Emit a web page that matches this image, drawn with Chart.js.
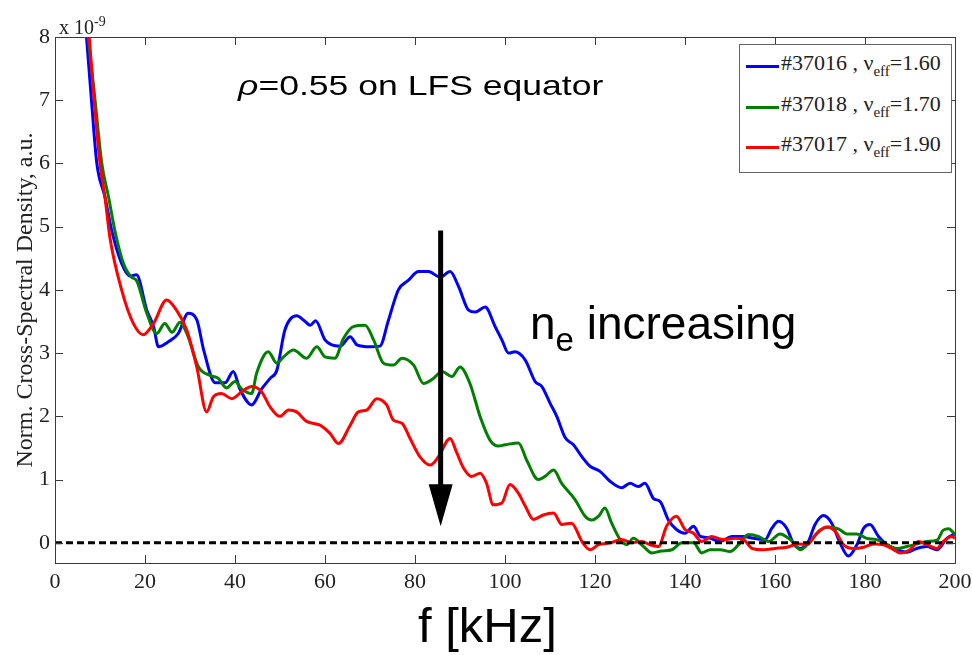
<!DOCTYPE html>
<html>
<head>
<meta charset="utf-8">
<script src="https://cdn.jsdelivr.net/npm/chart.js@4.4.1/dist/chart.umd.min.js"></script>
<style>
  html, body { margin: 0; padding: 0; background: #fff; }
  #wrap { position: relative; width: 972px; height: 655px; overflow: hidden; }
  #chart { position: absolute; left: 0; top: 0; }
  .note { position: absolute; white-space: nowrap; line-height: 1; color: #000;
          font-family: "Liberation Sans", Arial, sans-serif; }
  .serif { font-family: "Liberation Serif", "Times New Roman", serif; color: #222; }
  #legend { position: absolute; left: 739px; top: 44px; width: 211px; height: 127px;
            border: 1px solid #666; background: #fff; }
  .row { position: absolute; left: 0; height: 40px; width: 100%; }
  .swatch { position: absolute; left: 6px; width: 33px; height: 3px; }
  .lbl { position: absolute; left: 41px; top: 0; font-size: 22px; line-height: 21px; }
  .lbl sub { font-size: 15px; vertical-align: -6px; line-height: 0; }
</style>
</head>
<body>
<div id="wrap">
  <canvas id="chart" width="972" height="655"></canvas>

  <div class="note serif" style="left:59px; top:17px; font-size:20px;">x 10<sup style="font-size:14px; vertical-align:8px; line-height:0;">-9</sup></div>

  <div class="note" style="left:238px; top:72px; font-size:28px; transform:scaleX(1.27); transform-origin:left top;"><i>ρ</i>=0.55 on LFS equator</div>

  <div class="note" style="left:530px; top:300px; font-size:46px;">n<sub style="font-size:33px; vertical-align:-12px; line-height:0;">e</sub> increasing</div>

  <div class="note" style="left:418px; top:601px; font-size:49px;">f [kHz]</div>

  <div id="legend">
    <div class="row" style="top:7px;"><div class="swatch" style="top:13px; background:#0000ff;"></div><div class="lbl serif">#37016 , ν<sub>eff</sub>=1.60</div></div>
    <div class="row" style="top:48px;"><div class="swatch" style="top:13px; background:#007f00;"></div><div class="lbl serif">#37018 , ν<sub>eff</sub>=1.70</div></div>
    <div class="row" style="top:88px;"><div class="swatch" style="top:13px; background:#ff0000;"></div><div class="lbl serif">#37017 , ν<sub>eff</sub>=1.90</div></div>
  </div>
</div>

<script>
// values, y in units of 1e-9
const freqTicks = [0, 20, 40, 60, 80, 100, 120, 140, 160, 180, 200];
const densityTicks = [0, 1, 2, 3, 4, 5, 6, 7, 8];

const freq37016 = [6, 7, 8.1, 9.3, 11.1, 12.6, 14.8, 16.7, 18.1, 20.4, 21.9, 23, 25.2, 27.4, 29.6, 31.5, 33, 35.6, 37.8, 39.6,
  41.1, 43.7, 45.9, 47.8, 49.3, 51.1, 53.7, 55.6, 56.7, 57.9, 60, 61.5, 63.4, 65.6, 67.1, 70, 72.2, 74.1, 76.3, 78.5,
  80.8, 83, 85.6, 87.8, 89.7, 91.9, 93.4, 95.6, 97.8, 99.3, 100.8, 102.2, 104.5, 106.7, 108.2, 110, 111.5, 113.4, 115.2, 117.1,
  118.9, 121.1, 123.4, 125.9, 127.8, 129.6, 131.1, 133, 134.5, 136.3, 138.1, 140, 141.9, 143.4, 145.2, 147.8, 150.4, 153, 155.2, 157.8,
  159.3, 160.8, 162.6, 164.1, 165.6, 167.4, 168.9, 170.8, 172.6, 174.5, 176.3, 178.2, 179.7, 181.1, 183, 184.9, 187.1, 189.3, 191.5, 193.7,
  196, 198.2, 200];
const csd37016 = [9.0, 8.0, 7.0, 6.0, 5.47, 4.94, 4.42, 4.22, 4.24, 3.68, 3.42, 3.10, 3.18, 3.31, 3.63, 3.53, 3.06, 2.53, 2.53, 2.71,
  2.43, 2.18, 2.43, 2.60, 2.73, 3.37, 3.59, 3.50, 3.44, 3.51, 3.21, 3.13, 3.11, 3.26, 3.13, 3.10, 3.11, 3.52, 4.0, 4.15,
  4.29, 4.29, 4.20, 4.29, 4.05, 3.68, 3.65, 3.73, 3.42, 3.21, 3.0, 3.02, 2.89, 2.55, 2.47, 2.21, 2.0, 1.66, 1.55, 1.36,
  1.21, 1.13, 0.97, 0.87, 0.94, 0.89, 0.94, 0.70, 0.65, 0.36, 0.21, 0.15, 0.26, 0.10, 0.08, 0.02, 0.10, 0.10, 0.07, 0.05,
  0.23, 0.34, 0.23, -0.01, -0.09, 0.02, 0.29, 0.43, 0.31, -0.01, -0.21, -0.03, 0.23, 0.29, 0.10, -0.03, -0.11, -0.15, -0.09, -0.06,
  -0.11, 0.07, 0.14];

const freq37018 = [6.2, 7.4, 8.9, 10.4, 11.9, 13.3, 15.2, 17, 18.1, 20.4, 22.6, 24.4, 26, 27.8, 29.3, 31.9, 34.8, 36.3, 38.1, 40,
  41.5, 43.7, 44.8, 47.4, 49.3, 50.8, 53, 55.9, 58.2, 60, 62.2, 64.1, 66.3, 68.9, 70.8, 73, 75.2, 77.1, 79.7, 81.9,
  84.1, 86, 88.2, 90, 92.2, 94.5, 96.7, 98.5, 100, 103, 104.8, 107.4, 108.9, 110.8, 112.6, 115.6, 117.8, 119.3, 120.8, 122.2,
  123.7, 125.6, 127.1, 128.5, 130.8, 132.6, 134.8, 137.1, 139.3, 141.9, 143.7, 145.6, 147.8, 150, 151.9, 154.1, 156.3, 158.6, 161.1, 163.4,
  165.6, 167.8, 170, 171.9, 174.1, 176, 178.2, 180.4, 182.6, 184.9, 187.1, 189.3, 191.5, 193.7, 196, 197.4, 198.6, 200];
const csd37018 = [9.0, 8.0, 7.0, 6.0, 5.47, 4.94, 4.42, 4.20, 4.15, 3.63, 3.31, 3.47, 3.33, 3.49, 3.31, 2.78, 2.64, 2.60, 2.45, 2.55,
  2.43, 2.36, 2.68, 3.02, 2.84, 2.94, 3.05, 2.92, 3.10, 2.94, 2.92, 3.23, 3.42, 3.44, 3.21, 2.84, 2.81, 2.92, 2.81, 2.52,
  2.60, 2.71, 2.63, 2.78, 2.52, 1.99, 1.62, 1.53, 1.55, 1.58, 1.31, 1.0, 1.05, 1.15, 0.94, 0.68, 0.42, 0.36, 0.42, 0.55,
  0.31, 0.05, -0.03, 0.07, -0.06, -0.16, -0.13, -0.11, 0.0, 0.0, -0.16, -0.11, -0.11, -0.14, -0.03, 0.13, 0.10, 0.02, 0.14, 0.05,
  -0.11, 0.02, 0.20, 0.25, 0.22, 0.14, 0.14, 0.07, 0.05, -0.03, -0.09, -0.06, -0.02, 0.02, 0.04, 0.20, 0.22, 0.13];

const freq37017 = [6.4, 7.6, 8.7, 10, 11.1, 12.2, 14.8, 17.4, 19.6, 21.9, 24.8, 27, 29.3, 31.5, 33.7, 35.2, 37, 39.3, 41.5, 43.7,
  45.9, 47.8, 50, 51.9, 53.7, 55.9, 58.9, 61.1, 63, 65.6, 67.4, 69.3, 71.5, 73.7, 75.2, 77.1, 78.9, 81.1, 83.4, 85.2,
  87.8, 89.3, 90.8, 92.6, 94.5, 95.9, 97.4, 99.3, 101.1, 103, 104.5, 106.3, 108.5, 110.8, 112.6, 114.8, 117.1, 118.9, 120.8, 123.4,
  125.9, 128.1, 130.4, 132.2, 134.1, 135.9, 138.1, 140, 141.9, 143.7, 145.9, 148.5, 151.1, 153, 154.9, 157.5, 160, 162.6, 165.2, 167.1,
  169.3, 171.5, 173.4, 175.2, 177.4, 179.7, 181.9, 184.1, 185.9, 187.8, 190, 191.9, 193.7, 196, 197.4, 199.3, 200];
const csd37017 = [9.0, 8.0, 7.0, 6.0, 5.47, 4.83, 4.0, 3.47, 3.29, 3.47, 3.84, 3.68, 3.36, 2.78, 2.07, 2.31, 2.36, 2.28, 2.39, 2.47,
  2.39, 2.15, 2.0, 2.10, 2.07, 1.92, 1.86, 1.73, 1.57, 1.86, 2.07, 2.10, 2.28, 2.18, 1.94, 1.89, 1.65, 1.36, 1.23, 1.36,
  1.65, 1.42, 1.18, 1.05, 1.10, 0.94, 0.60, 0.63, 0.92, 0.78, 0.58, 0.37, 0.44, 0.47, 0.29, 0.31, 0.02, -0.11, -0.03, 0.0,
  0.05, 0.0, 0.02, -0.03, -0.06, 0.26, 0.42, 0.21, 0.15, 0.02, 0.10, 0.05, 0.07, 0.05, -0.09, -0.11, -0.09, -0.07, -0.02, -0.03,
  0.15, 0.25, 0.18, -0.03, -0.09, -0.07, -0.02, -0.03, -0.09, -0.16, -0.11, 0.02, -0.03, -0.09, 0.02, 0.10, 0.07];

const zeroFreq = [0, 200];
const zeroCsd = [0, 0];

// "n_e increasing" arrow, in data units
const arrowFreq = 85.7;
const arrowFrom = 4.94;
const arrowTo = 0.26;

const axisColor = '#3a3a3a';
const tickFont = { family: "'Liberation Serif', 'Times New Roman', serif", size: 22 };

function toPoints(xs, ys) {
    return xs.map((x, i) => ({ x: x, y: ys[i] }));
}

function series(label, xs, ys, color, order) {
    return {
        label: label,
        data: toPoints(xs, ys),
        borderColor: color,
        borderWidth: 3,
        pointRadius: 0,
        fill: false,
        cubicInterpolationMode: 'monotone',
        order: order
    };
}

// box round the plot plus MATLAB style ticks pointing inwards
const framePlugin = {
    id: 'frame',
    afterDraw(chart) {
        const { ctx, chartArea: a, scales } = chart;
        const len = 8;
        ctx.save();
        ctx.strokeStyle = axisColor;
        ctx.lineWidth = 1;
        ctx.strokeRect(Math.round(a.left) + 0.5, Math.round(a.top) + 0.5,
                       Math.round(a.right - a.left), Math.round(a.bottom - a.top));
        ctx.beginPath();
        freqTicks.forEach(v => {
            const x = Math.round(scales.x.getPixelForValue(v)) + 0.5;
            ctx.moveTo(x, a.bottom); ctx.lineTo(x, a.bottom - len);
            ctx.moveTo(x, a.top); ctx.lineTo(x, a.top + len);
        });
        densityTicks.forEach(v => {
            const y = Math.round(scales.y.getPixelForValue(v)) + 0.5;
            ctx.moveTo(a.left, y); ctx.lineTo(a.left + len, y);
            ctx.moveTo(a.right, y); ctx.lineTo(a.right - len, y);
        });
        ctx.stroke();
        ctx.restore();
    }
};

const arrowPlugin = {
    id: 'arrow',
    afterDatasetsDraw(chart) {
        const { ctx, scales } = chart;
        const x = scales.x.getPixelForValue(arrowFreq);
        const y0 = scales.y.getPixelForValue(arrowFrom);
        const y1 = scales.y.getPixelForValue(arrowTo);
        const head = 42, half = 12;
        ctx.save();
        ctx.strokeStyle = '#000';
        ctx.fillStyle = '#000';
        ctx.lineWidth = 5;
        ctx.beginPath();
        ctx.moveTo(x, y0);
        ctx.lineTo(x, y1 - head + 2);
        ctx.stroke();
        ctx.beginPath();
        ctx.moveTo(x - half, y1 - head);
        ctx.lineTo(x + half, y1 - head);
        ctx.lineTo(x, y1);
        ctx.closePath();
        ctx.fill();
        ctx.restore();
    }
};

const ctx = document.getElementById('chart').getContext('2d');
const chart = new Chart(ctx, {
    type: 'line',
    data: {
        datasets: [
            {
                label: 'zero',
                data: toPoints(zeroFreq, zeroCsd),
                borderColor: '#000',
                borderWidth: 3,
                borderDash: [7, 4],
                pointRadius: 0,
                fill: false,
                order: 0
            },
            series('#37017 , ν_eff=1.90', freq37017, csd37017, '#ff0000', 1),
            series('#37018 , ν_eff=1.70', freq37018, csd37018, '#007f00', 2),
            series('#37016 , ν_eff=1.60', freq37016, csd37016, '#0000ff', 3)
        ]
    },
    options: {
        responsive: false,
        animation: false,
        devicePixelRatio: 1,
        layout: { autoPadding: false, padding: { top: 37, right: 17, left: 0, bottom: 0 } },
        plugins: {
            legend: { display: false },
            tooltip: { enabled: false }
        },
        scales: {
            x: {
                type: 'linear',
                min: 0,
                max: 200,
                grid: { display: false, drawTicks: false },
                border: { display: false },
                ticks: { color: '#222', font: tickFont, padding: 6, maxRotation: 0 },
                afterBuildTicks: scale => { scale.ticks = freqTicks.map(v => ({ value: v })); },
                afterFit: scale => {
                    scale.height = 92;
                    scale.paddingLeft = 0;
                    scale.paddingRight = 0;
                }
            },
            y: {
                min: -0.32,
                max: 8,
                grid: { display: false, drawTicks: false },
                border: { display: false },
                ticks: { color: '#222', font: tickFont, padding: 5 },
                afterBuildTicks: scale => { scale.ticks = densityTicks.map(v => ({ value: v })); },
                afterFit: scale => {
                    scale.width = 55;
                    scale.paddingTop = 0;
                    scale.paddingBottom = 0;
                },
                title: {
                    display: true,
                    text: 'Norm. Cross-Spectral Density, a.u.',
                    color: '#222',
                    font: { family: "'Liberation Serif', 'Times New Roman', serif", size: 24 },
                    padding: { top: 11, bottom: 0 }
                }
            }
        }
    },
    plugins: [framePlugin, arrowPlugin]
});
</script>
</body>
</html>
